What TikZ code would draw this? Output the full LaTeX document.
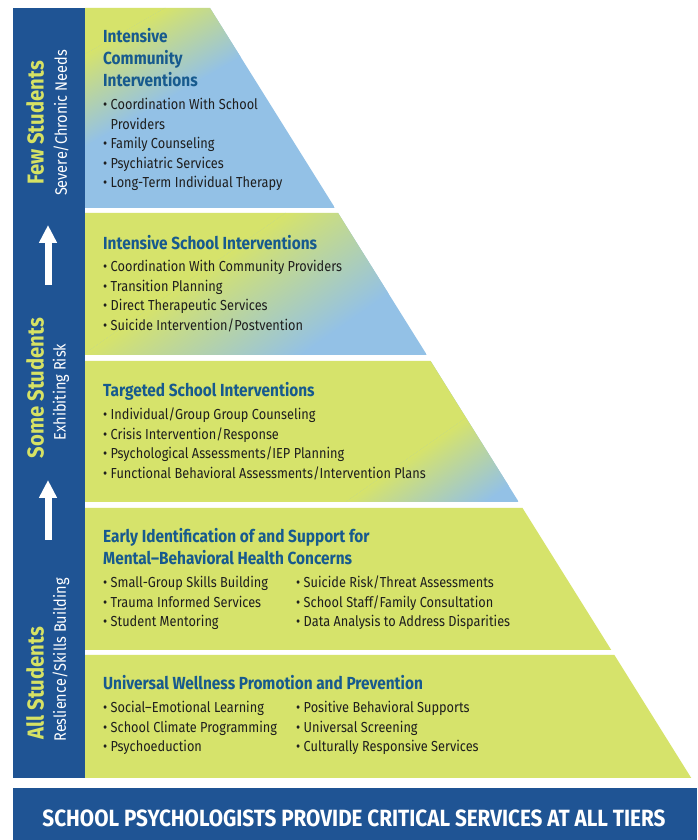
\documentclass[tikz,border=0pt]{standalone}
\usepackage{fontspec}
\setmainfont{Fira Sans}[FakeStretch=0.88]
\usetikzlibrary{arrows.meta}
\definecolor{barblue}{HTML}{1F5494}
\definecolor{ygreen}{HTML}{D6E36B}
\definecolor{lblue}{HTML}{93C1E6}
\definecolor{tblue}{HTML}{175A8E}
\definecolor{sideyellow}{HTML}{D6E264}
\definecolor{bodytext}{HTML}{1E1E1E}
\tikzset{
  ttl/.style={anchor=base west, inner sep=0pt, align=left, text=tblue,
    font=\fontsize{17.5}{22}\selectfont\bfseries},
  lst/.style={anchor=base west, inner sep=0pt, align=left, text=bodytext,
    font=\fontsize{14.5}{19.5}\selectfont},
  sidebig/.style={rotate=90, inner sep=0pt, text=sideyellow,
    font=\fontsize{23}{24}\selectfont\bfseries},
  sidesmall/.style={rotate=90, inner sep=0pt, text=white,
    font=\fontsize{16.5}{18}\selectfont},
  uparrow/.style={white, line width=7pt, -{Triangle[width=17pt,length=18pt]}},
}
\newcommand{\bl}{\textbullet\ }
\newcommand{\bi}{\phantom{\textbullet\ }}
\begin{document}
\begin{tikzpicture}[x=1pt,y=1pt]
\useasboundingbox (0,0) rectangle (697,840);
\fill[white] (0,0) rectangle (697,840);
% left bar
\fill[barblue] (13,62) rectangle (85,832);
% tier 1
\begin{scope}
  \clip (85,832) -- (210,832) -- (335,632) -- (85,632) -- cycle;
  \fill[lblue] (85,632) rectangle (335,832);
  \begin{scope}[transform canvas={shift={(85,832)},rotate=-60}]
    \fill[ygreen] (-1000,-1000) rectangle (40,1000);
    \shade[left color=ygreen, right color=lblue] (40,-1000) rectangle (120,1000);
  \end{scope}
\end{scope}
% tier 2
\begin{scope}
  \clip (85,627) -- (338.1,627) -- (426.9,485) -- (85,485) -- cycle;
  \fill[lblue] (85,485) rectangle (427,627);
  \begin{scope}[transform canvas={shift={(85,627)},rotate=-55}]
    \fill[ygreen] (-1000,-1000) rectangle (115,1000);
    \shade[left color=ygreen, right color=lblue] (115,-1000) rectangle (240,1000);
  \end{scope}
\end{scope}
% tier 3
\begin{scope}
  \clip (85,479) -- (430.6,479) -- (518.75,338) -- (85,338) -- cycle;
  \fill[lblue] (85,338) rectangle (519,479);
  \begin{scope}[transform canvas={shift={(85,479)},rotate=-55}]
    \fill[ygreen] (-1000,-1000) rectangle (265,1000);
    \shade[left color=ygreen, right color=lblue] (265,-1000) rectangle (345,1000);
  \end{scope}
\end{scope}
% tier 4 and 5
\fill[ygreen] (85,332) -- (522.5,332) -- (611.25,190) -- (85,190) -- cycle;
\fill[ygreen] (85,185) -- (614.4,185) -- (691.25,62) -- (85,62) -- cycle;
% banner
\fill[barblue] (13,0) rectangle (697,52);
\node[inner sep=0pt, text=white, font=\fontsize{23.5}{24}\selectfont\bfseries] (banner) at (354,22)
  {SCHOOL PSYCHOLOGISTS PROVIDE CRITICAL SERVICES AT ALL TIERS};

% side labels
\node[sidebig] (few) at (35,717) {Few Students};
\node[sidesmall] (fewsub) at (61,717) {Severe/Chronic Needs};
\node[sidebig] (some) at (35,452) {Some Students};
\node[sidesmall] (somesub) at (61,448) {Exhibiting Risk};
\node[sidebig] (all) at (35,157) {All Students};
\node[sidesmall] (allsub) at (61,180) {Reslience/Skills Building};
\coordinate (a1s) at (48,555);
\coordinate (a1e) at (48,615);
\coordinate (a2s) at (48,300);
\coordinate (a2e) at (48,360);
\draw[uparrow] (a1s) -- (a1e);
\draw[uparrow] (a2s) -- (a2e);

% tier 1 text (anchors at baseline of the last line)
\node[ttl] (t1) at (103,753) {Intensive\\Community\\Interventions};
\node[lst] (l1) at (103,652) {\bl Coordination With School\\\bi Providers\\\bl Family Counseling\\\bl Psychiatric Services\\\bl Long-Term Individual Therapy};
% tier 2
\node[ttl] (t2) at (103,590) {Intensive School Interventions};
\node[lst] (l2) at (103,509.5) {\bl Coordination With Community Providers\\\bl Transition Planning\\\bl Direct Therapeutic Services\\\bl Suicide Intervention/Postvention};
% tier 3
\node[ttl] (t3) at (103,443) {Targeted School Interventions};
\node[lst] (l3) at (103,361.5) {\bl Individual/Group Group Counseling\\\bl Crisis Intervention/Response\\\bl Psychological Assessments/IEP Planning\\\bl Functional Behavioral Assessments/Intervention Plans};
% tier 4
\node[ttl] (t4) at (103,275) {Early Identification of and Support for\\Mental–Behavioral Health Concerns};
\node[lst] (l4a) at (103,213) {\bl Small-Group Skills Building\\\bl Trauma Informed Services\\\bl Student Mentoring};
\node[lst] (l4b) at (296,213) {\bl Suicide Risk/Threat Assessments\\\bl School Staff/Family Consultation\\\bl Data Analysis to Address Disparities};
% tier 5
\node[ttl] (t5) at (103,150) {Universal Wellness Promotion and Prevention};
\node[lst] (l5a) at (103,88) {\bl Social–Emotional Learning\\\bl School Climate Programming\\\bl Psychoeduction};
\node[lst] (l5b) at (296,88) {\bl Positive Behavioral Supports\\\bl Universal Screening\\\bl Culturally Responsive Services};
\end{tikzpicture}
\end{document}
